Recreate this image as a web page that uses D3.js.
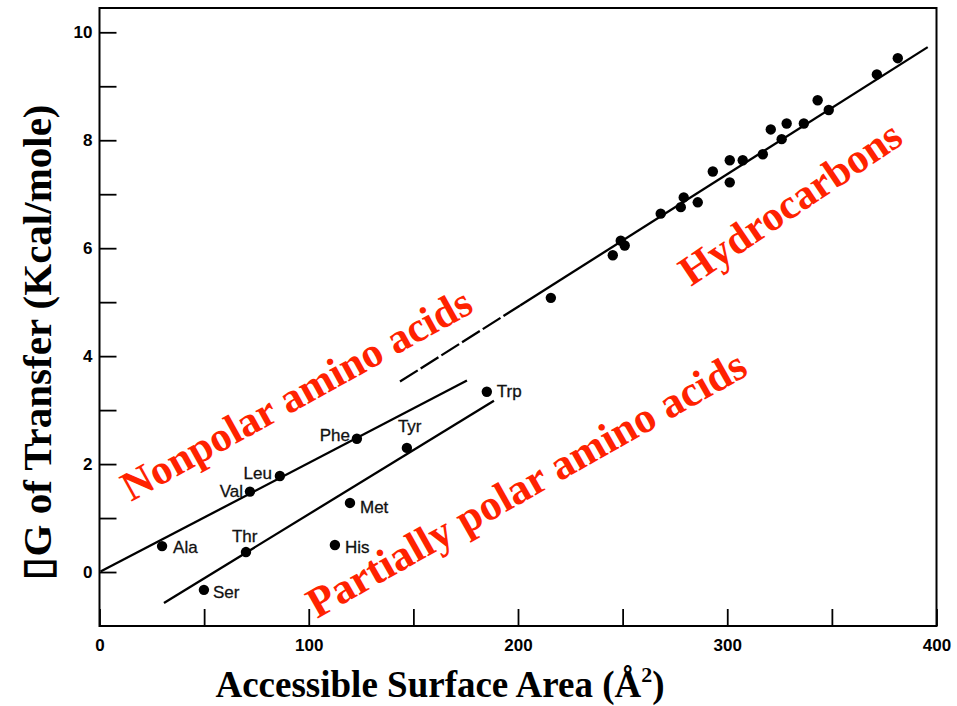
<!DOCTYPE html>
<html><head><meta charset="utf-8">
<script src="https://cdn.jsdelivr.net/npm/d3@7"></script>
<style>
body{margin:0;background:#fff}
svg{display:block}
</style>
</head><body>
<svg id="chart" width="957" height="706"></svg>
<script>
// ---------- data ----------
const aminoNames = ["Ala","Val","Leu","Phe","Tyr","Trp","Met","His","Thr","Ser"];
const aminoArea  = [29.9, 71.9, 86.2, 123.0, 146.9, 185.1, 119.7, 112.5, 70.0, 49.9];
const aminoDG    = [0.48, 1.49, 1.78, 2.47, 2.30, 3.34, 1.28, 0.50, 0.37, -0.33];

const hcArea = [215.7,245.3,249.1,251.0,268.2,277.8,279.2,285.9,293.1,301.2,301.2,307.4,317.0,320.8,326.0,328.4,336.6,343.2,348.5,371.5,381.5];
const hcDG   = [5.08, 5.87, 6.14, 6.05, 6.64, 6.76, 6.94, 6.85, 7.42, 7.63, 7.22, 7.63, 7.74, 8.20, 8.02, 8.31, 8.31, 8.74, 8.56, 9.22, 9.52];

// fitted lines: [nonpolar, partially polar, hydrocarbons]
const fitStart     = [0.5, 30.8, 143.6];
const fitEnd       = [175.6, 188.5, 395.8];
const fitSlope     = [0.0202, 0.02376, 0.02457];
const fitIntercept = [0.0, -1.305, 0.0];
const hcDashedUntil = 201;

const xTickValues = [0,50,100,150,200,250,300,350,400];
const xTickLabels = [0,100,200,300,400];
const yTickValues = [0,1,2,3,4,5,6,7,8,9,10];
const yTickLabels = [0,2,4,6,8,10];

const groupLabels = ["Nonpolar amino acids","Partially polar amino acids","Hydrocarbons"];
const xTitle = "Accessible Surface Area (Å";
const xTitleSup = "2";
const yTitle = "\u25AFG of Transfer (Kcal/mole)";

// ---------- layout / style ----------
const labelOffsets = [ // [dx, dy, anchor] for amino acid labels
  [11, 7, "start"], [-7, 5, "end"], [-8, 3, "end"], [-7, 2, "end"], [-9, -16, "start"],
  [10, 5, "start"], [10, 10, "start"], [10, 8, "start"], [-14, -10, "start"], [9, 8, "start"]
];
const groupLabelPos = [ // [x, y, angle, size]
  [131, 502, -29, 42], [317, 619, -29.5, 43], [691, 287, -34, 42]
];
const RED = "#ff2200";
const SERIF = "'Liberation Serif','Times New Roman',Times,serif";
const SANS = "'Liberation Sans',Arial,Helvetica,sans-serif";

const svg = d3.select("#chart");
const x = d3.scaleLinear().domain([0,400]).range([99.5,936.5]);
const y = d3.scaleLinear().domain([-1,10.45]).range([626,8]);

// axes
const yAxis = d3.axisLeft(y).tickValues(yTickValues).tickSizeInner(-17).tickSizeOuter(0).tickPadding(7)
  .tickFormat(d => yTickLabels.includes(d) ? d : "");
const gy = svg.append("g").attr("transform", `translate(${x(0)},0)`).call(yAxis);
const xAxis = d3.axisBottom(x).tickValues(xTickValues).tickSizeInner(-17).tickSizeOuter(0).tickPadding(13)
  .tickFormat(d => xTickLabels.includes(d) ? d : "");
const gx = svg.append("g").attr("transform", `translate(0,${y(-1)})`).call(xAxis);
[gx, gy].forEach(g => {
  g.select(".domain").remove();
  g.selectAll(".tick line").attr("stroke", "#000").attr("stroke-width", 1.8);
  g.selectAll(".tick text").attr("fill", "#000").attr("font-family", SANS)
    .attr("font-size", 17).attr("font-weight", "bold");
});

// frame
svg.append("rect")
  .attr("x", x(0)).attr("y", y(10.45))
  .attr("width", x(400) - x(0)).attr("height", y(-1) - y(10.45))
  .attr("fill", "none").attr("stroke", "#000").attr("stroke-width", 2);

// fit lines
const line = d3.line().x(d => x(d[0])).y(d => y(d[1]));
const seg = (i, a, b) => [[a, fitIntercept[i] + fitSlope[i]*a], [b, fitIntercept[i] + fitSlope[i]*b]];
for (let i = 0; i < 2; i++) {
  svg.append("path").attr("d", line(seg(i, fitStart[i], fitEnd[i])))
    .attr("stroke", "#000").attr("stroke-width", 2.3).attr("fill", "none");
}
svg.append("path").attr("d", line(seg(2, fitStart[2], hcDashedUntil)))
  .attr("stroke", "#000").attr("stroke-width", 2.3).attr("fill", "none")
  .attr("stroke-dasharray", "21,3.5");
svg.append("path").attr("d", line(seg(2, hcDashedUntil, fitEnd[2])))
  .attr("stroke", "#000").attr("stroke-width", 2.3).attr("fill", "none");

// points
const amino = aminoNames.map((n, i) => ({n, a: aminoArea[i], g: aminoDG[i], o: labelOffsets[i]}));
const hc = hcArea.map((a, i) => ({a, g: hcDG[i]}));
svg.append("g").selectAll("circle").data(amino.concat(hc)).join("circle")
  .attr("cx", d => x(d.a)).attr("cy", d => y(d.g)).attr("r", 5.2).attr("fill", "#000");

svg.append("g").selectAll("text").data(amino).join("text")
  .attr("x", d => x(d.a) + d.o[0]).attr("y", d => y(d.g) + d.o[1])
  .attr("text-anchor", d => d.o[2])
  .attr("font-family", SANS).attr("font-size", 17).attr("fill", "#111")
  .attr("stroke", "#111").attr("stroke-width", 0.3)
  .text(d => d.n);

// group labels
svg.append("g").selectAll("text").data(groupLabels).join("text")
  .attr("transform", (d, i) => `translate(${groupLabelPos[i][0]},${groupLabelPos[i][1]}) rotate(${groupLabelPos[i][2]})`)
  .attr("font-family", SERIF).attr("font-weight", "bold")
  .attr("font-size", (d, i) => groupLabelPos[i][3]).attr("fill", RED)
  .text(d => d);

// axis titles
const xt = svg.append("text").attr("x", 440).attr("y", 697).attr("text-anchor", "middle")
  .attr("font-family", SERIF).attr("font-weight", "bold").attr("font-size", 37).attr("fill", "#000");
xt.append("tspan").text(xTitle);
xt.append("tspan").attr("font-size", 22).attr("dy", -15).text(xTitleSup);
xt.append("tspan").attr("dy", 15).text(")");

svg.append("text").attr("transform", "translate(51,342) rotate(-90)").attr("text-anchor", "middle")
  .attr("font-family", SERIF).attr("font-weight", "bold").attr("font-size", 41).attr("fill", "#000")
  .text(yTitle);
</script>
</body></html>
